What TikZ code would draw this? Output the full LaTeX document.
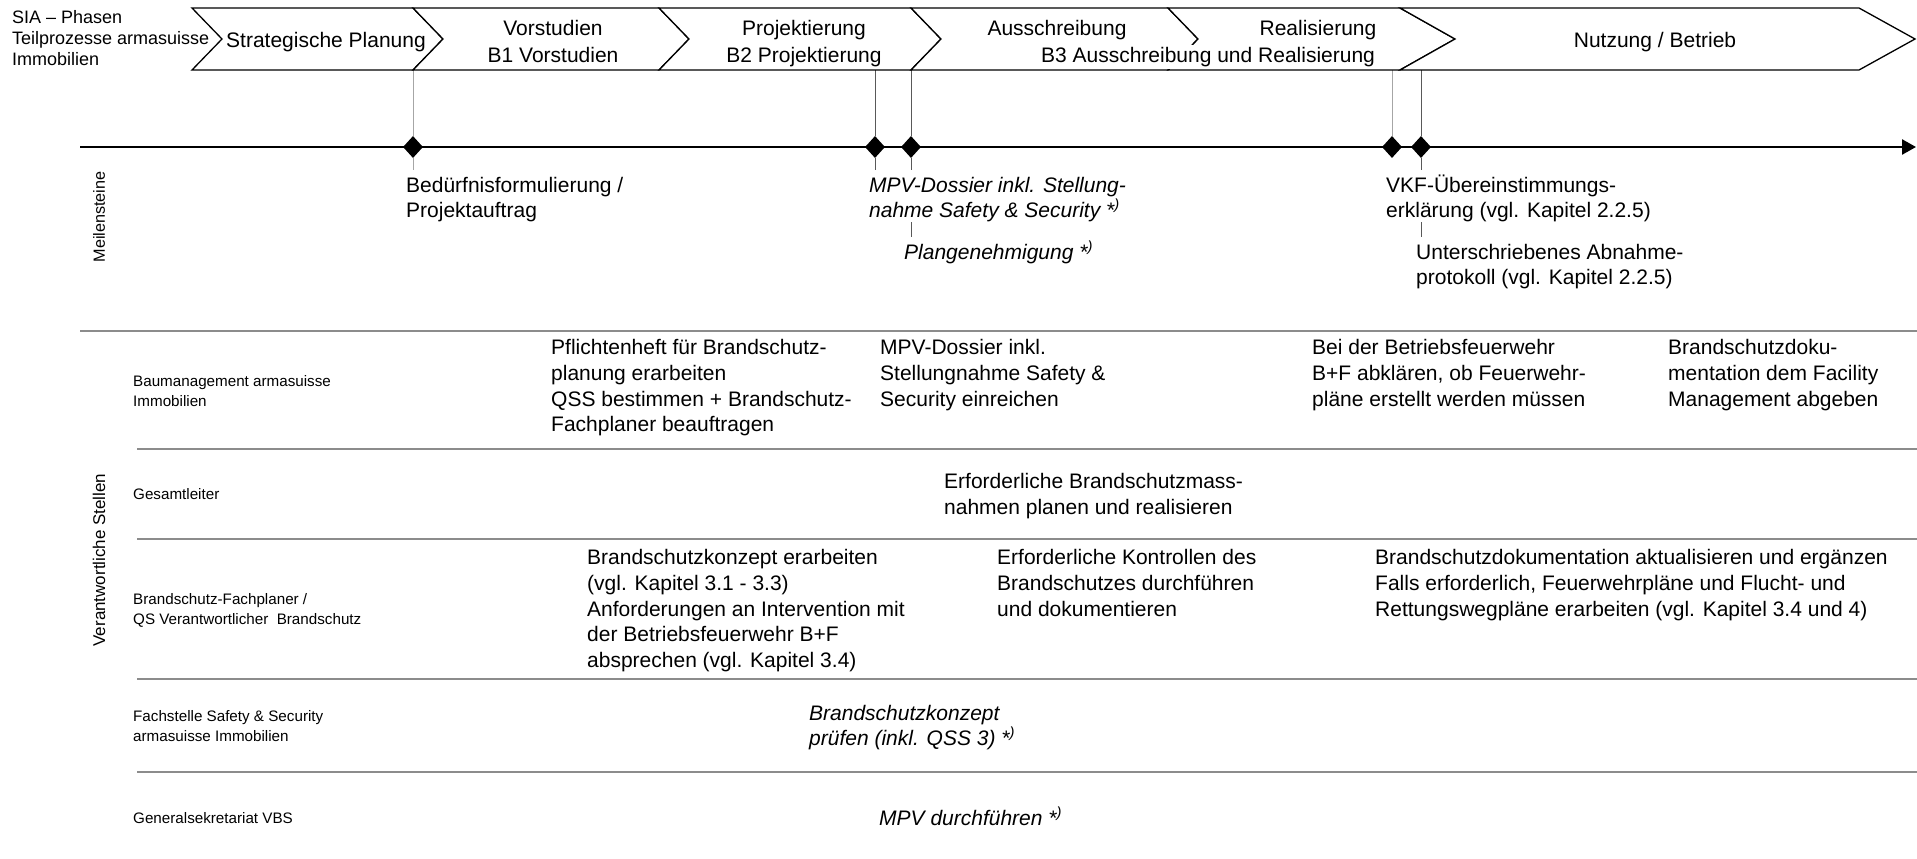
\documentclass[tikz,border=0pt]{standalone}
\usepackage{fontspec}
\setmainfont{Liberation Sans}
\usetikzlibrary{shapes.geometric,arrows.meta}
\pgfdeclarelayer{bg}
\pgfsetlayers{bg,main}
\newcommand\fbig{\fontsize{21}{25.8}\selectfont}
\newcommand\fchev{\fontsize{21}{27}\selectfont}
\newcommand\fsmall{\fontsize{15.2}{20.5}\selectfont}
\newcommand\fvert{\fontsize{16.2}{20}\selectfont}
\newcommand\fnast{*\textsuperscript{)}}
\begin{document}
\begin{tikzpicture}[x=1pt,y=-1pt,
  chev/.style={draw=black,line width=1.3pt,fill=white,line join=miter},
  ctext/.style={anchor=base,inner sep=0pt,align=center,font=\fchev},
  lbl/.style={anchor=base west,inner sep=0pt,align=left,font=\fbig},
  ilbl/.style={lbl,font=\fbig\itshape},
  rowlbl/.style={anchor=base west,inner sep=0pt,align=left,font=\fsmall},
  vlbl/.style={rotate=90,inner sep=0pt,font=\fvert},
  ms/.style={diamond,fill=black,draw=none,inner sep=0pt,minimum width=20pt,minimum height=22pt},
  mlinel/.style={draw=black!35,line width=1pt},
  mlined/.style={draw=black!65,line width=1pt},
  sep/.style={draw=black!45,line width=1.4pt},
  tline/.style={draw=black,line width=2.5pt,-{Triangle[length=14pt,width=15pt]}}]
\useasboundingbox (0,0) rectangle (1917,859);
\begin{pgfonlayer}{bg}
\fill[white] (0,0) rectangle (1917,859);
\end{pgfonlayer}

% header text (anchors at the baseline of the last line)
\node[rowlbl,font=\fontsize{18}{21}\selectfont] (hdr) at (12,66) {SIA -- Phasen\\Teilprozesse armasuisse\\Immobilien};

% chevrons
\draw[chev] (192,8) -- (413,8) -- (443,39) -- (413,70) -- (192,70) -- (222,39) -- cycle;
\draw[chev] (413,8) -- (659,8) -- (689,39) -- (659,70) -- (413,70) -- (443,39) -- cycle;
\draw[chev] (659,8) -- (911,8) -- (941,39) -- (911,70) -- (659,70) -- (689,39) -- cycle;
\draw[chev] (911,8) -- (1168,8) -- (1198,39) -- (1168,70) -- (911,70) -- (941,39) -- cycle;
\draw[chev] (1168,8) -- (1400,8) -- (1455,39) -- (1400,70) -- (1168,70) -- (1198,39) -- cycle;
\draw[chev] (1400,8) -- (1859,8) -- (1915,39) -- (1859,70) -- (1400,70) -- (1455,39) -- cycle;

\node[ctext] (p1) at (326,47.4) {Strategische Planung};
\node[ctext] (p2) at (553,62.4) {Vorstudien\\B1 Vorstudien};
\node[ctext] (p3) at (804,62.4) {Projektierung\\B2 Projektierung};
\node[ctext] (p4) at (1057,35.4) {Ausschreibung};
\node[ctext] (p5) at (1318,35.4) {Realisierung};
\node[ctext,fill=white,inner xsep=1pt,inner ysep=2pt] (p45) at (1208,62.4) {B3 Ausschreibung und Realisierung};
\node[ctext] (p6) at (1655,47.4) {Nutzung / Betrieb};

% timeline
\coordinate (t0) at (80,147);
\coordinate (t1) at (1916,147);
\draw[tline] (t0) -- (t1);

% milestones
\foreach \i/\xx in {1/413,2/875,3/911,4/1392,5/1421}{
  \coordinate (top\i) at (\xx,70);
  \coordinate (bot\i) at (\xx,170);
  \node[ms] (d\i) at (\xx,147) {};
}
\coordinate (e3a) at (911,222);
\coordinate (e3b) at (911,237);
\coordinate (e5a) at (1421,222);
\coordinate (e5b) at (1421,237);
\begin{pgfonlayer}{bg}
\draw[mlinel] (top1) -- (d1) -- (bot1);
\draw[mlined] (top2) -- (d2) -- (bot2);
\draw[mlined] (top3) -- (d3) -- (bot3);
\draw[mlinel] (top4) -- (d4);
\draw[mlined] (top5) -- (d5) -- (bot5);
\draw[mlined] (e3a) -- (e3b);
\draw[mlined] (e5a) -- (e5b);
\end{pgfonlayer}

\node[lbl,font=\fontsize{21}{25}\selectfont] (m1) at (406,217.4) {Bedürfnisformulierung /\\Projektauftrag};
\node[ilbl,font=\fontsize{21}{25}\selectfont\itshape] (m2) at (869,217.4) {MPV-Dossier inkl. Stellung-\\nahme Safety \& Security \fnast};
\node[ilbl] (m3) at (904,259.4) {Plangenehmigung \fnast};
\node[lbl,font=\fontsize{21}{25}\selectfont] (m4) at (1386,217.4) {VKF-Übereinstimmungs-\\erklärung (vgl. Kapitel 2.2.5)};
\node[lbl,font=\fontsize{21}{25}\selectfont] (m5) at (1416,284.4) {Unterschriebenes Abnahme-\\protokoll (vgl. Kapitel 2.2.5)};

% vertical labels
\node[vlbl] (vm) at (99,217) {Meilensteine};
\node[vlbl,font=\fontsize{17}{20}\selectfont] (vs) at (99,560) {Verantwortliche Stellen};

% separators
\coordinate (s0a) at (80,331);  \coordinate (s0b) at (1917,331);
\coordinate (s1a) at (137,449); \coordinate (s1b) at (1917,449);
\coordinate (s2a) at (137,539); \coordinate (s2b) at (1917,539);
\coordinate (s3a) at (137,679); \coordinate (s3b) at (1917,679);
\coordinate (s4a) at (137,772); \coordinate (s4b) at (1917,772);
\draw[sep] (s0a) -- (s0b);
\draw[sep] (s1a) -- (s1b);
\draw[sep] (s2a) -- (s2b);
\draw[sep] (s3a) -- (s3b);
\draw[sep] (s4a) -- (s4b);

% row labels
\node[rowlbl] (r1) at (133,406.5) {Baumanagement armasuisse\\Immobilien};
\node[rowlbl] (r2) at (133,499) {Gesamtleiter};
\node[rowlbl] (r3) at (133,624.5) {Brandschutz-Fachplaner /\\QS Verantwortlicher\ \ Brandschutz};
\node[rowlbl] (r4) at (133,741.5) {Fachstelle Safety \& Security\\armasuisse Immobilien};
\node[rowlbl] (r5) at (133,823) {Generalsekretariat VBS};

% row 1
\node[lbl] (a1) at (551,431.9) {Pflichtenheft für Brandschutz-\\planung erarbeiten\\QSS bestimmen + Brandschutz-\\Fachplaner beauftragen};
\node[lbl] (a2) at (880,406.1) {MPV-Dossier inkl.\\Stellungnahme Safety \&\\Security einreichen};
\node[lbl] (a3) at (1312,406.1) {Bei der Betriebsfeuerwehr\\B+F abklären, ob Feuerwehr-\\pläne erstellt werden müssen};
\node[lbl] (a4) at (1668,406.1) {Brandschutzdoku-\\mentation dem Facility\\Management abgeben};
% row 2
\node[lbl] (b1) at (944,514.2) {Erforderliche Brandschutzmass-\\nahmen planen und realisieren};
% row 3
\node[lbl] (c1) at (587,667.6) {Brandschutzkonzept erarbeiten\\(vgl. Kapitel 3.1 - 3.3)\\Anforderungen an Intervention mit\\der Betriebsfeuerwehr B+F\\absprechen (vgl. Kapitel 3.4)};
\node[lbl] (c2) at (997,616) {Erforderliche Kontrollen des\\Brandschutzes durchführen\\und dokumentieren};
\node[lbl] (c3) at (1375,616) {Brandschutzdokumentation aktualisieren und ergänzen\\Falls erforderlich, Feuerwehrpläne und Flucht- und\\Rettungswegpläne erarbeiten (vgl. Kapitel 3.4 und 4)};
% row 4
\node[ilbl,font=\fontsize{21}{25}\selectfont\itshape] (f1) at (809,745.4) {Brandschutzkonzept\\prüfen (inkl. QSS 3) \fnast};
% row 5
\node[ilbl] (g1) at (879,825.4) {MPV durchführen \fnast};
\end{tikzpicture}
\end{document}
